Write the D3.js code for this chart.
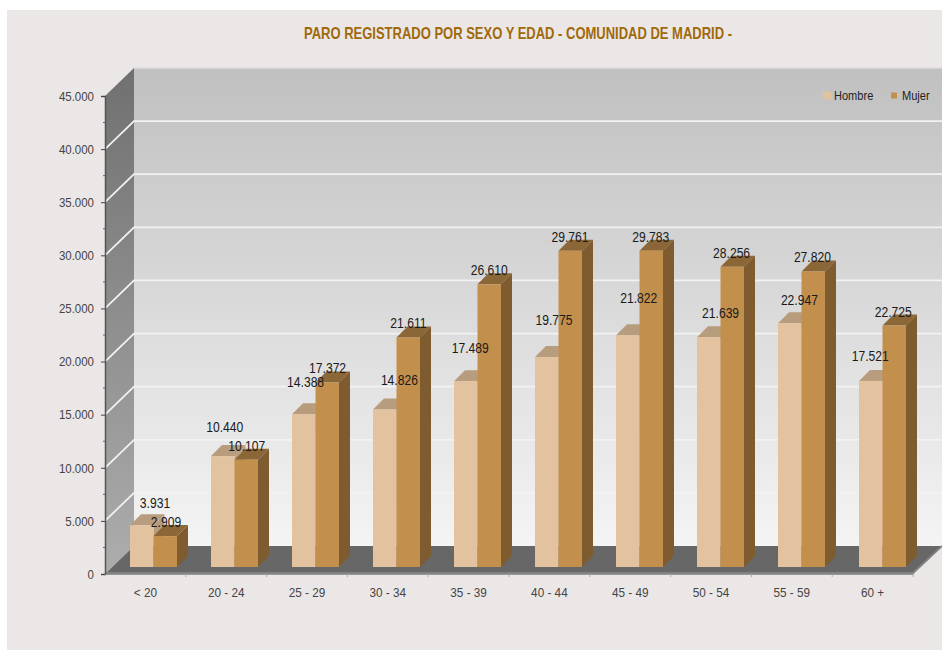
<!DOCTYPE html>
<html>
<head>
<meta charset="utf-8">
<script src="https://cdn.jsdelivr.net/npm/d3@7"></script>
<style>
  html, body { margin: 0; padding: 0; background: #fff; }
  svg { display: block; }
  text { font-family: "Liberation Sans", sans-serif; }
</style>
</head>
<body>
<div id="grafico"></div>
<script>
// datos
var categorias = ["< 20", "20 - 24", "25 - 29", "30 - 34", "35 - 39", "40 - 44", "45 - 49", "50 - 54", "55 - 59", "60 +"];
var series = ["Hombre", "Mujer"];
var hombre = [3931, 10440, 14388, 14826, 17489, 19775, 21822, 21639, 22947, 17521];
var mujer = [2909, 10107, 17372, 21611, 26610, 29761, 29783, 28256, 27820, 22725];
var ticksY = [0, 5000, 10000, 15000, 20000, 25000, 30000, 35000, 40000, 45000];
var titulo = "PARO REGISTRADO POR SEXO Y EDAD - COMUNIDAD DE MADRID -";

// ajustes de las etiquetas, el original las coloca a mano
var subeHombre = [22, 29, 32, 29, 33, 37, 37, 24, 23, 25];
var corridoHombre = [50, 39, 39, 52, 42, 45, 49, 50, 48, 38];

var ancho = 942, alto = 650;
var prof = 29, base = 7, profBarra = 11;
var colores = {
  Hombre: {frente: "#e2c29f", arriba: "#b89c7e", lado: "#b89c7e"},
  Mujer: {frente: "#c38f4c", arriba: "#8b6637", lado: "#7e5c2f"}
};

var svg = d3.select("#grafico").append("svg").attr("width", ancho).attr("height", alto);
var defs = svg.append("defs");

function degradado(id, c1, c2) {
  var g = defs.append("linearGradient").attr("id", id)
    .attr("x1", 0).attr("y1", 0).attr("x2", 0).attr("y2", 1);
  g.append("stop").attr("offset", "0%").attr("stop-color", c1);
  g.append("stop").attr("offset", "100%").attr("stop-color", c2);
}
degradado("fondoPared", "#c0c0c0", "#f4f4f4");
degradado("fondoLado", "#707070", "#adadad");

// no hay fuente estrecha instalada: se comprime el texto a mano
function estrecha(sel, factor) {
  sel.each(function() {
    d3.select(this)
      .attr("textLength", this.getComputedTextLength() * factor)
      .attr("lengthAdjust", "spacingAndGlyphs");
  });
}

svg.append("rect").attr("x", 7).attr("y", 10).attr("width", ancho - 7).attr("height", alto - 10).attr("fill", "#ece7e7");

var x = d3.scaleBand().domain(categorias).range([105, 913]);
// las barras avanzan un poco mas que las marcas del eje
var xBarras = d3.scaleBand().domain(categorias).range([105, 915]);
var y = d3.scaleLinear().domain([0, 45000]).range([574, 96]);
var xSerie = d3.scaleBand().domain(series).range([25, 72]);

function puntos(lista) {
  return lista.map(function(p) { return p.join(","); }).join(" ");
}

// paredes y suelo
var x0 = x.range()[0], x1 = x.range()[1];
svg.append("rect")
  .attr("x", x0 + prof).attr("y", y(45000) - prof + 1)
  .attr("width", ancho - x0 - prof).attr("height", y(0) - y(45000))
  .attr("fill", "url(#fondoPared)");
svg.append("line")
  .attr("x1", x0 + prof).attr("x2", ancho)
  .attr("y1", y(45000) - prof + 1).attr("y2", y(45000) - prof + 1)
  .attr("stroke", "#dcdcdc").attr("stroke-width", 1.5);
svg.append("polygon")
  .attr("points", puntos([[x0, y(45000)], [x0 + prof, y(45000) - prof + 1], [x0 + prof, y(0) - prof + 1], [x0, y(0)]]))
  .attr("fill", "url(#fondoLado)");

// rejilla
var rejilla = ticksY.filter(function(d) { return d > 0 && d < 45000; });
svg.selectAll(".rejilla").data(rejilla).enter().append("polyline")
  .attr("class", "rejilla")
  .attr("points", function(d) { return puntos([[x0, y(d)], [x0 + prof, y(d) - prof + 1], [ancho, y(d) - prof + 1]]); })
  .attr("fill", "none").attr("stroke", "#f2f2f2").attr("stroke-width", 1.8);

svg.append("polygon")
  .attr("points", puntos([[x0, y(0)], [x0 + prof, y(0) - prof + 1], [ancho, y(0) - prof + 1], [x1, y(0)]]))
  .attr("fill", "#676767");
svg.append("polyline")
  .attr("points", puntos([[x0, y(0) - 1], [x1, y(0) - 1], [ancho, y(0) - prof + 1]]))
  .attr("fill", "none").attr("stroke", "#828282").attr("stroke-width", 2);

// barras
function dibujar(nombre, valores) {
  var c = colores[nombre];
  var g = svg.append("g").attr("class", "serie");
  var izq = function(i) { return xBarras(categorias[i]) + xSerie(nombre); };
  var w = xSerie.bandwidth();
  var tope = function(d) { return y(d) - base; };
  var suelo = y(0) - base;

  g.selectAll(".arriba").data(valores).enter().append("polygon")
    .attr("points", function(d, i) {
      return puntos([[izq(i), tope(d)], [izq(i) + profBarra, tope(d) - profBarra], [izq(i) + w + profBarra, tope(d) - profBarra], [izq(i) + w, tope(d)]]);
    })
    .attr("fill", c.arriba);
  g.selectAll(".lado").data(valores).enter().append("polygon")
    .attr("points", function(d, i) {
      return puntos([[izq(i) + w, tope(d)], [izq(i) + w + profBarra, tope(d) - profBarra], [izq(i) + w + profBarra, suelo - profBarra], [izq(i) + w, suelo]]);
    })
    .attr("fill", c.lado);
  g.selectAll(".frente").data(valores).enter().append("rect")
    .attr("x", function(d, i) { return izq(i); })
    .attr("y", function(d) { return tope(d); })
    .attr("width", w)
    .attr("height", function(d) { return suelo - tope(d); })
    .attr("fill", c.frente);
}
dibujar("Hombre", hombre);
dibujar("Mujer", mujer);

// etiquetas de valor
var formato = function(d) { return d3.format(",")(d).replace(/,/g, "."); };
svg.selectAll(".valH").data(hombre).enter().append("text")
  .attr("class", "valH")
  .attr("x", function(d, i) { return x(categorias[i]) + corridoHombre[i]; })
  .attr("y", function(d, i) { return y(d) - base - subeHombre[i]; })
  .attr("dy", "0.35em").attr("text-anchor", "middle")
  .attr("font-size", 14).attr("fill", "#1a1a1a").text(formato)
  .call(estrecha, 0.865);
svg.selectAll(".valM").data(mujer).enter().append("text")
  .attr("class", "valM")
  .attr("x", function(d, i) { return x(categorias[i]) + 61; })
  .attr("y", function(d) { return y(d) - base - 14; })
  .attr("dy", "0.35em").attr("text-anchor", "middle")
  .attr("font-size", 14).attr("fill", "#1a1a1a").text(formato)
  .call(estrecha, 0.865);

// ejes
var ejeY = d3.axisLeft(y).tickValues(ticksY).tickFormat(formato).tickSize(4).tickPadding(7);
var gy = svg.append("g").attr("transform", "translate(" + x0 + ",0)").call(ejeY);
gy.selectAll("text").attr("font-size", 13.5).attr("fill", "#444").call(estrecha, 0.85);
gy.selectAll("line").attr("stroke", "#444");
gy.select(".domain").attr("stroke", "#555").attr("stroke-width", 1.5);
var menores = d3.range(2500, 45000, 5000);
gy.selectAll(".menor").data(menores).enter().append("line")
  .attr("class", "menor").attr("x1", -2).attr("x2", 0)
  .attr("y1", function(d) { return y(d); }).attr("y2", function(d) { return y(d); })
  .attr("stroke", "#666");

var ejeX = d3.axisBottom(x).tickSize(0).tickPadding(13);
var gx = svg.append("g").attr("transform", "translate(0," + y(0) + ")").call(ejeX);
gx.selectAll("text").attr("font-size", 13.5).attr("fill", "#444").call(estrecha, 0.87);
gx.select(".domain").attr("stroke", "#999");
gx.selectAll(".marca").data(categorias).enter().append("line")
  .attr("class", "marca")
  .attr("x1", function(d) { return x(d) + x.bandwidth(); })
  .attr("x2", function(d) { return x(d) + x.bandwidth(); })
  .attr("y1", 0).attr("y2", 3).attr("stroke", "#aaa");

// titulo
svg.append("text").attr("x", 518).attr("y", 33).attr("dy", "0.35em")
  .attr("text-anchor", "middle").attr("font-size", 16.5).attr("font-weight", "bold")
  .attr("fill", "#a0690b").text(titulo)
  .attr("textLength", 428).attr("lengthAdjust", "spacingAndGlyphs");

// leyenda
var leyX = {Hombre: 823, Mujer: 891};
var leyTexto = {Hombre: 834, Mujer: 902};
var leyLado = {Hombre: 8, Mujer: 6};
var ley = svg.selectAll(".ley").data(series).enter().append("g").attr("class", "ley");
ley.append("rect")
  .attr("x", function(d) { return leyX[d]; })
  .attr("y", function(d) { return 95.5 - leyLado[d] / 2; })
  .attr("width", function(d) { return leyLado[d]; })
  .attr("height", function(d) { return leyLado[d]; })
  .attr("fill", function(d) { return colores[d].frente; });
ley.append("text")
  .attr("x", function(d) { return leyTexto[d]; })
  .attr("y", 95.5).attr("dy", "0.35em")
  .attr("font-size", 12).attr("fill", "#222")
  .text(function(d) { return d; })
  .call(estrecha, 0.92);
</script>
</body>
</html>
